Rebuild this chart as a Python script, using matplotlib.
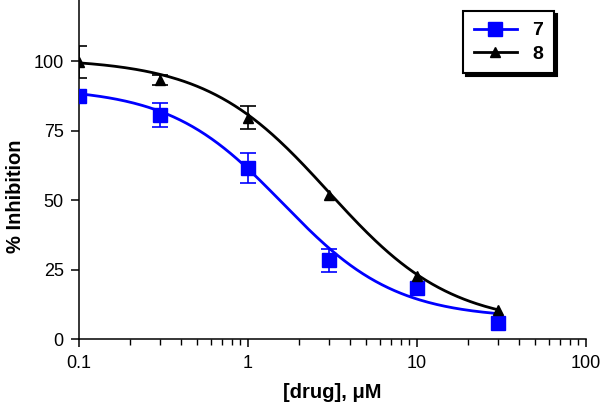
import numpy as np
import matplotlib
matplotlib.use("Agg")
import matplotlib.pyplot as plt
from matplotlib.ticker import LogLocator, NullFormatter, FixedLocator

plt.rcParams['font.family'] = ['Liberation Sans', 'DejaVu Sans']

# data
conc = np.array([0.1, 0.3, 1, 3, 10, 30])
inh_7 = np.array([87.4, 80.8, 61.6, 28.4, 18.4, 5.8])
err_7 = np.array([0, 4.3, 5.5, 4.1, 0, 0])
inh_8 = np.array([99.8, 93.2, 79.7, 51.8, 22.9, 10.6])
err_8 = np.array([5.75, 1.7, 4.2, 0, 0, 0])

# 4-parameter logistic fits (top, bottom, IC50, hill)
fit_7 = (90.5, 7.5, 1.6, 1.3)
fit_8 = (101.0, 5.0, 3.0, 1.2)

def hill(x, top, bottom, ic50, n):
    return bottom + (top - bottom) / (1 + (x / ic50) ** n)

fig = plt.figure(figsize=(6, 4.08), dpi=100)
ax = fig.add_axes([0.1317, 0.168, 0.845, 0.832])

xs = np.logspace(-1, np.log10(30), 200)
ax.plot(xs, hill(xs, *fit_7), color='#0000ff', lw=2, zorder=2)
ax.plot(xs, hill(xs, *fit_8), color='black', lw=2, zorder=2)

# error bars only where there is an error
m7 = err_7 > 0
m8 = err_8 > 0
ax.errorbar(conc[m7], inh_7[m7], yerr=err_7[m7], fmt='none', ecolor='#0000ff',
            capsize=6, elinewidth=1.2, capthick=1.2, zorder=3)
ax.errorbar(conc[m8], inh_8[m8], yerr=err_8[m8], fmt='none', ecolor='black',
            capsize=6, elinewidth=1.2, capthick=1.2, zorder=3)
ax.plot(conc, inh_7, 's', color='#0000ff', ms=10, zorder=4)
ax.plot(conc, inh_8, '^', color='black', ms=7.5, zorder=5)

ax.set_xscale('log')
ax.set_xlim(0.1, 100)
ax.set_ylim(0, 122)
ax.xaxis.set_major_locator(FixedLocator([0.1, 1, 10, 100]))
ax.set_xticklabels(['0.1', '1', '10', '100'])
ax.xaxis.set_minor_locator(LogLocator(base=10, subs=np.arange(2, 10)))
ax.xaxis.set_minor_formatter(NullFormatter())
ax.set_yticks([0, 25, 50, 75, 100])

for s in ['top', 'right']:
    ax.spines[s].set_visible(False)
ax.spines['left'].set_linewidth(1.1)
ax.spines['bottom'].set_linewidth(1.1)
ax.tick_params(axis='both', which='major', direction='out', length=6, width=1.1,
               labelsize=13, pad=5)
ax.tick_params(axis='x', which='minor', direction='out', length=4, width=1.0)

ax.set_xlabel('[drug], \u03bcM', fontsize=14.5, fontweight='bold', labelpad=8)
ax.set_ylabel('% Inhibition', fontsize=14.5, fontweight='bold')
ax.yaxis.set_label_coords(-0.106, 0.423)

h7, = ax.plot([], [], color='#0000ff', lw=2, marker='s', ms=10)
h8, = ax.plot([], [], color='black', lw=2, marker='^', ms=7.5)
leg = fig.legend([h7, h8], ['7', '8'], loc='upper left',
                 bbox_to_anchor=(0.772, 0.973), borderaxespad=0,
                 frameon=True, fancybox=False,
                 shadow={'color': 'black', 'alpha': 1}, edgecolor='black',
                 prop={'size': 14, 'weight': 'bold'}, handlelength=2.2,
                 borderpad=0.55, labelspacing=0.3, handletextpad=0.8)
leg.get_frame().set_linewidth(1.5)

fig.savefig('out.png', dpi=100)
